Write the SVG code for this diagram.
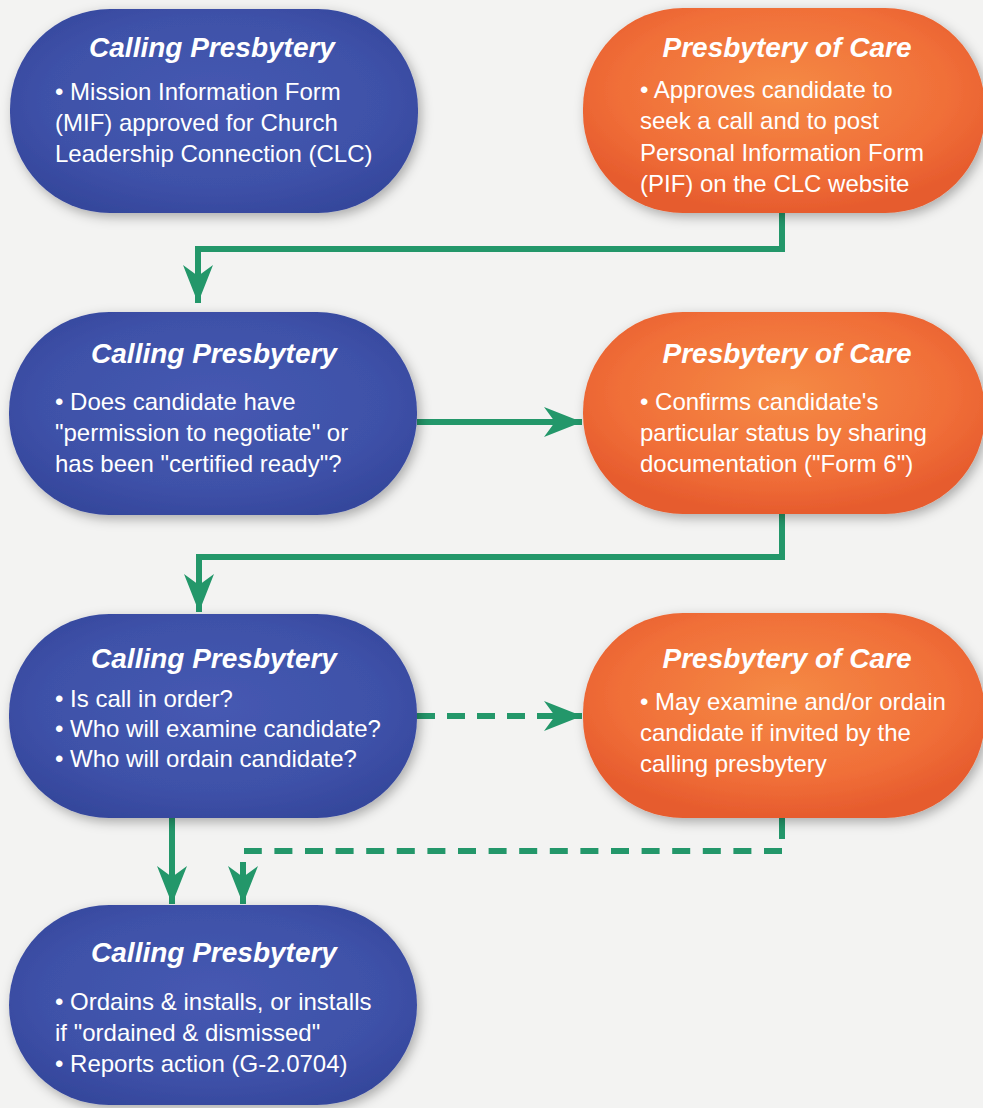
<svg xmlns="http://www.w3.org/2000/svg" width="983" height="1108" viewBox="0 0 983 1108">
<style>
.title{font-family:"Liberation Sans",Arial,sans-serif;font-weight:bold;font-style:italic;font-size:28px;fill:#fff;text-anchor:middle}
.body{font-family:"Liberation Sans",Arial,sans-serif;font-size:24px;fill:#fff}
.blue{fill:url(#gBlue);filter:url(#sh)}
.orange{fill:url(#gOrange);filter:url(#sh)}
.conn{fill:none;stroke:#23976a;stroke-width:6}
.dash{stroke-dasharray:18 12}
</style>
<defs>
<radialGradient id="gBlue" cx="0.5" cy="0.45" r="0.6">
<stop offset="0" stop-color="#4659b2"/>
<stop offset="0.7" stop-color="#3e51a8"/>
<stop offset="1" stop-color="#35479c"/>
</radialGradient>
<radialGradient id="gOrange" cx="0.5" cy="0.4" r="0.6">
<stop offset="0" stop-color="#f58a45"/>
<stop offset="0.7" stop-color="#f06e38"/>
<stop offset="1" stop-color="#e65b2d"/>
</radialGradient>
<filter id="sh" x="-10%" y="-10%" width="125%" height="130%">
<feDropShadow dx="3" dy="4" stdDeviation="6" flood-color="#000" flood-opacity="0.3"/>
</filter>
<marker id="ah" markerUnits="userSpaceOnUse" markerWidth="42" markerHeight="34" viewBox="-40 -17 42 34" refX="0" refY="0" orient="auto">
<path d="M0,0 L-38,-15 L-27,0 L-38,15 Z" fill="#23976a"/>
</marker>
</defs>
<rect x="0" y="0" width="983" height="1108" fill="#f3f3f2"/>

<g id="connectors">
<path class="conn" d="M782,212 V249 H198 V303" marker-end="url(#ah)"/>
<path class="conn" d="M417,422 H582" marker-end="url(#ah)"/>
<path class="conn" d="M782,514 V557 H199 V612" marker-end="url(#ah)"/>
<path class="conn dash" d="M417,716 H582" marker-end="url(#ah)"/>
<path class="conn" d="M172,817 V904" marker-end="url(#ah)"/>
<path class="conn" d="M782,818 V839"/>
<path class="conn" d="M782,851 H244" style="stroke-dasharray:18 12.6"/>
<path class="conn" d="M243,862 V904" marker-end="url(#ah)"/>
</g>

<g id="node1">
<rect class="blue" x="10" y="9" width="408" height="204" rx="100" ry="100"/>
<text class="title" x="212" y="57">Calling Presbytery</text>
<text class="body" x="55" y="100">• Mission Information Form</text>
<text class="body" x="55" y="131">(MIF) approved for Church</text>
<text class="body" x="55" y="162">Leadership Connection (CLC)</text>
</g>

<g id="node2">
<rect class="orange" x="583" y="8" width="402" height="205" rx="100" ry="100"/>
<text class="title" x="787" y="57">Presbytery of Care</text>
<text class="body" x="640" y="98">• Approves candidate to</text>
<text class="body" x="640" y="129">seek a call and to post</text>
<text class="body" x="640" y="161">Personal Information Form</text>
<text class="body" x="640" y="192">(PIF) on the CLC website</text>
</g>

<g id="node3">
<rect class="blue" x="9" y="312" width="408" height="203" rx="100" ry="100"/>
<text class="title" x="214" y="363">Calling Presbytery</text>
<text class="body" x="55" y="410">• Does candidate have</text>
<text class="body" x="55" y="441">"permission to negotiate" or</text>
<text class="body" x="55" y="472">has been "certified ready"?</text>
</g>

<g id="node4">
<rect class="orange" x="583" y="312" width="402" height="202" rx="100" ry="100"/>
<text class="title" x="787" y="363">Presbytery of Care</text>
<text class="body" x="640" y="410">• Confirms candidate's</text>
<text class="body" x="640" y="441">particular status by sharing</text>
<text class="body" x="640" y="472">documentation ("Form 6")</text>
</g>

<g id="node5">
<rect class="blue" x="9" y="614" width="408" height="204" rx="100" ry="100"/>
<text class="title" x="214" y="668">Calling Presbytery</text>
<text class="body" x="55" y="707">• Is call in order?</text>
<text class="body" x="55" y="737">• Who will examine candidate?</text>
<text class="body" x="55" y="767">• Who will ordain candidate?</text>
</g>

<g id="node6">
<rect class="orange" x="583" y="613" width="402" height="205" rx="100" ry="100"/>
<text class="title" x="787" y="668">Presbytery of Care</text>
<text class="body" x="640" y="710">• May examine and/or ordain</text>
<text class="body" x="640" y="741">candidate if invited by the</text>
<text class="body" x="640" y="772">calling presbytery</text>
</g>

<g id="node7">
<rect class="blue" x="9" y="905" width="408" height="200" rx="100" ry="100"/>
<text class="title" x="214" y="962">Calling Presbytery</text>
<text class="body" x="55" y="1010">• Ordains &amp; installs, or installs</text>
<text class="body" x="55" y="1041">if "ordained &amp; dismissed"</text>
<text class="body" x="55" y="1072">• Reports action (G-2.0704)</text>
</g>
</svg>
